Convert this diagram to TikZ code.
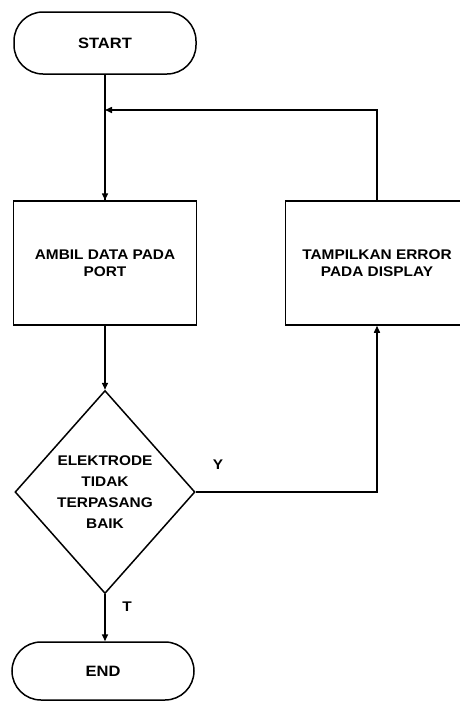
\documentclass[tikz,border=0pt]{standalone}
\usepackage{fontspec}
\setmainfont{Liberation Sans}[FakeStretch=1.1]
\usetikzlibrary{shapes.geometric,arrows.meta}
\newcommand\boxfont{\fontsize{14}{17}\selectfont\bfseries}
\newcommand\termfont{\fontsize{15}{17}\selectfont\bfseries}
\newcommand\decfont{\fontsize{14}{21}\selectfont\bfseries}
\begin{document}
\begin{tikzpicture}[x=1pt,y=-1pt,line width=1.5pt,
  term/.style={draw,rounded corners=29pt,minimum width=182pt,minimum height=62pt,inner sep=0pt,font=\termfont},
  proc/.style={draw,minimum width=183pt,minimum height=124pt,align=center,inner sep=0pt,font=\boxfont},
  dec/.style={draw,diamond,aspect=0.887,minimum width=180pt,minimum height=203pt,align=center,inner sep=0pt,font=\decfont},
  lbl/.style={inner sep=0pt,font=\boxfont},
  arr/.style={-{Triangle[length=7pt,width=6pt]}}]
\useasboundingbox (0,0) rectangle (460,702);
\node[term] (start) at (105,43) {START};
\node[proc] (ambil) at (105,263) {AMBIL DATA PADA\\PORT};
\node[proc] (tamp) at (377,263) {TAMPILKAN ERROR\\PADA DISPLAY};
\node[dec] (dec) at (105,492) {ELEKTRODE\\TIDAK\\TERPASANG\\BAIK};
\node[term,minimum height=58pt] (end) at (103,671) {END};
\coordinate (join) at (105,110);
\node[lbl] (ylab) at (218,465) {Y};
\node[lbl] (tlab) at (127,607) {T};
\draw (start) -- (ambil);
\draw[arr] (join) -- (ambil.north);
\draw[arr] (tamp.north) |- (join);
\draw[arr] (ambil) -- (dec);
\draw[arr] (dec.east) -| (tamp.south);
\draw[arr] (dec.south) -- (dec.south |- end.north);
\end{tikzpicture}
\end{document}
